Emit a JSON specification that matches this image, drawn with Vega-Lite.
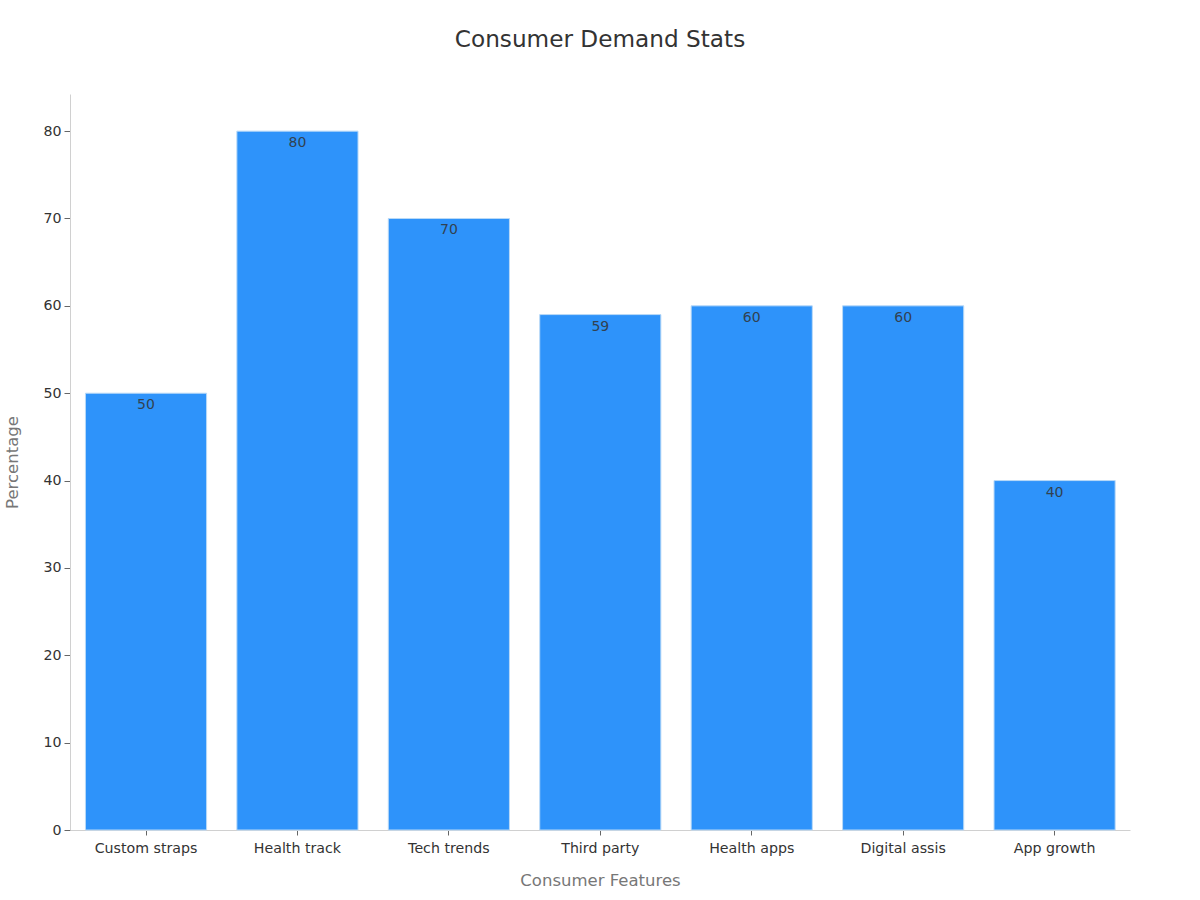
{
  "$schema": "https://vega.github.io/schema/vega-lite/v6.json",
  "width": 1060,
  "height": 736,
  "padding": {"left": 70, "top": 94, "right": 70, "bottom": 70},
  "autosize": "none",
  "background": "white",
  "title": {
    "text": "Consumer Demand Stats",
    "font": "DejaVu Sans",
    "fontSize": 23.2,
    "fontWeight": "normal",
    "color": "#333333",
    "anchor": "middle",
    "offset": 42
  },
  "data": {
    "values": [
      {"feature": "Custom straps", "pct": 50},
      {"feature": "Health track", "pct": 80},
      {"feature": "Tech trends", "pct": 70},
      {"feature": "Third party", "pct": 59},
      {"feature": "Health apps", "pct": 60},
      {"feature": "Digital assis", "pct": 60},
      {"feature": "App growth", "pct": 40}
    ]
  },
  "encoding": {
    "x": {
      "field": "feature",
      "type": "nominal",
      "sort": null,
      "title": "Consumer Features",
      "scale": {"paddingInner": 0.2, "paddingOuter": 0.1, "align": 0.51},
      "axis": {
        "labelAngle": 0,
        "labelFont": "DejaVu Sans",
        "labelFontSize": 14.2,
        "labelColor": "#333333",
        "labelPadding": 6,
        "titleFont": "DejaVu Sans",
        "titleFontSize": 16.5,
        "titleFontWeight": "normal",
        "titleColor": "#777777",
        "titlePadding": 17,
        "domainColor": "#d0d0d0",
        "tickColor": "#666666",
        "tickSize": 5
      }
    },
    "y": {
      "field": "pct",
      "type": "quantitative",
      "title": "Percentage",
      "scale": {"domain": [0, 84.25], "nice": false},
      "axis": {
        "values": [0, 10, 20, 30, 40, 50, 60, 70, 80],
        "grid": false,
        "labelFont": "DejaVu Sans",
        "labelFontSize": 14.2,
        "labelColor": "#333333",
        "labelPadding": 3,
        "titleFont": "DejaVu Sans",
        "titleFontSize": 16.5,
        "titleFontWeight": "normal",
        "titleColor": "#777777",
        "titlePadding": 22,
        "domainColor": "#d0d0d0",
        "tickColor": "#666666",
        "tickSize": 6
      }
    }
  },
  "layer": [
    {
      "mark": {"type": "bar", "color": "#2e93fa", "stroke": "#b9d9f7", "strokeWidth": 1}
    },
    {
      "mark": {"type": "text", "baseline": "top", "dy": 5, "font": "DejaVu Sans", "fontSize": 14, "color": "#333333", "opacity": 0.85},
      "encoding": {"text": {"field": "pct", "type": "quantitative"}}
    }
  ],
  "config": {"view": {"stroke": null}}
}
